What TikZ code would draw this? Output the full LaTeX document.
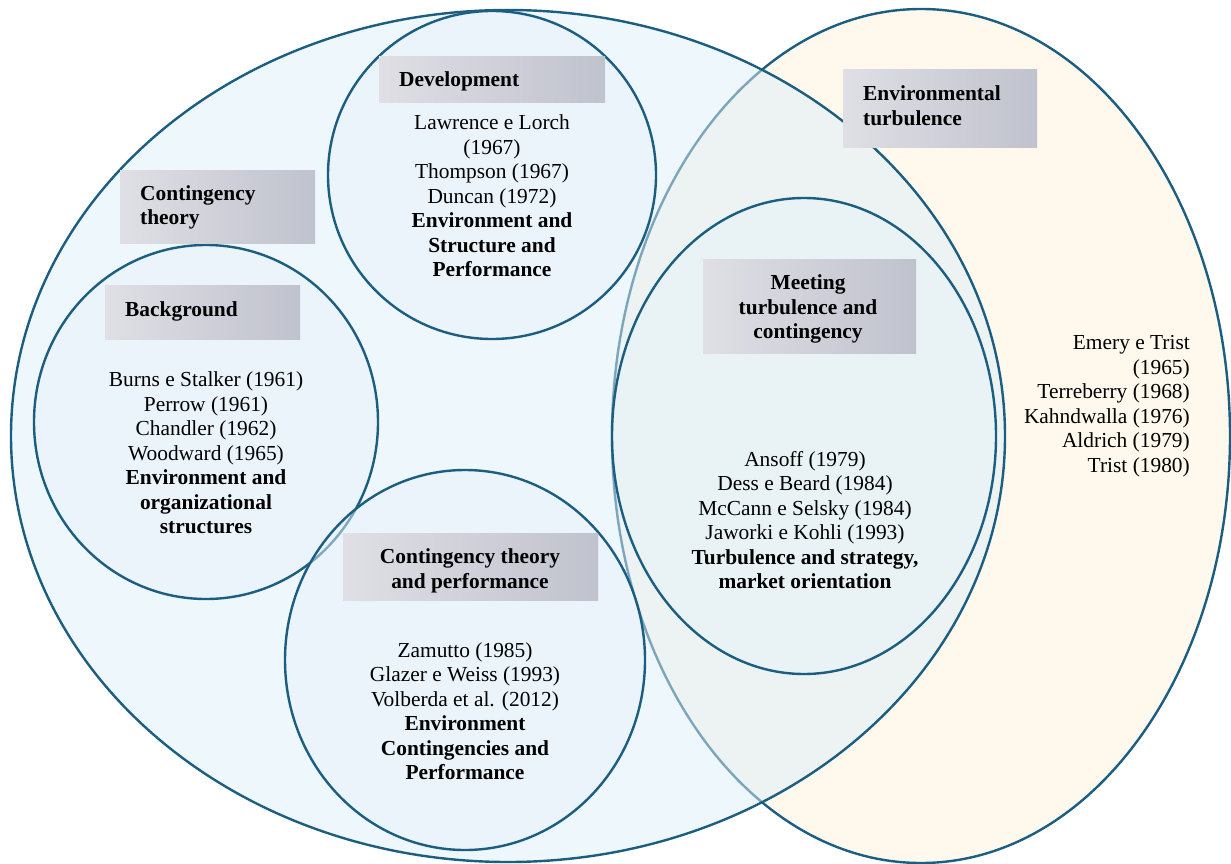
\documentclass[tikz,border=0pt]{standalone}
\usepackage{fontspec}
\setmainfont{Liberation Serif}
\definecolor{edge}{RGB}{27,94,130}
\definecolor{cream}{RGB}{254,248,237}
\definecolor{paleblue}{RGB}{222,239,247}
\definecolor{innerblue}{RGB}{231,243,251}
\definecolor{labl}{RGB}{223,223,229}
\definecolor{labr}{RGB}{192,194,205}
\tikzset{
  ring/.style={draw=edge, line width=2.4pt},
  veil/.style={ring, fill=paleblue, fill opacity=0.5},
  innerveil/.style={ring, fill=innerblue, fill opacity=0.5},
  txt/.style={font=\fontsize{21.4}{24.5}\selectfont, align=center, inner sep=0pt},
  tagbox/.style={left color=labl, right color=labr, draw=none, inner sep=0pt},
  tagtxt/.style={font=\fontsize{21.4}{24.5}\selectfont\bfseries, inner sep=0pt, align=left, anchor=west},
  ctagtxt/.style={tagtxt, align=center, anchor=center}
}
\begin{document}
\begin{tikzpicture}[x=1pt,y=-1pt]
\useasboundingbox (0,0) rectangle (1231,864);
% environmental turbulence ellipse
\draw[ring, fill=cream] (921,436) ellipse [x radius=309pt, y radius=427pt];
% contingency theory ellipse
\draw[veil] (508,436) ellipse [x radius=497pt, y radius=426pt];
% inner circles
\draw[innerveil] (492,175) ellipse [x radius=164pt, y radius=164pt];
\draw[innerveil] (206,422) ellipse [x radius=172pt, y radius=177pt];
\draw[innerveil] (465,660) ellipse [x radius=180pt, y radius=190pt];
\draw[innerveil] (804,436) ellipse [x radius=192pt, y radius=238pt];

% label boxes
\node[tagbox, minimum width=226pt, minimum height=46pt] (devtag) at (492,79.5) {};
\node[tagbox, minimum width=194pt, minimum height=77pt] (envtag) at (940,108.5) {};
\node[tagbox, minimum width=195pt, minimum height=73pt] (cttag) at (217.5,206.5) {};
\node[tagbox, minimum width=195pt, minimum height=54pt] (bgtag) at (202.5,312) {};
\node[tagbox, minimum width=213pt, minimum height=94pt] (meettag) at (809.5,306) {};
\node[tagbox, minimum width=255pt, minimum height=67pt] (perftag) at (470.5,566.5) {};

% label texts
\node[tagtxt] (devlab) at (399,81.5) {Development};
\node[tagtxt] (envlab) at (863,105.5) {Environmental\\turbulence};
\node[tagtxt] (ctlab) at (140,207.5) {Contingency\\theory};
\node[tagtxt] (bglab) at (125,311) {Background};
\node[ctagtxt] (meetlab) at (808,309) {Meeting\\turbulence and\\contingency};
\node[ctagtxt] (perflab) at (470,571) {Contingency theory\\and performance};

% texts
\node[txt] (devtxt) at (492,196) {Lawrence e Lorch\\(1967)\\Thompson (1967)\\Duncan (1972)\\\textbf{Environment and}\\\textbf{Structure and}\\\textbf{Performance}};
\node[txt] (bgtxt) at (206,453) {Burns e Stalker (1961)\\Perrow (1961)\\Chandler (1962)\\Woodward (1965)\\\textbf{Environment and}\\\textbf{organizational}\\\textbf{structures}};
\node[txt] (perftxt) at (465,711) {Zamutto (1985)\\Glazer e Weiss (1993)\\Volberda et al. (2012)\\\textbf{Environment}\\\textbf{Contingencies and}\\\textbf{Performance}};
\node[txt] (meettxt) at (805,520) {Ansoff (1979)\\Dess e Beard (1984)\\McCann e Selsky (1984)\\Jaworki e Kohli (1993)\\\textbf{Turbulence and strategy,}\\\textbf{market orientation}};
\node[txt, align=right, anchor=east] (envtxt) at (1190,406) {Emery e Trist\\(1965)\\Terreberry (1968)\\Kahndwalla (1976)\\Aldrich (1979)\\Trist (1980)};
\end{tikzpicture}
\end{document}
